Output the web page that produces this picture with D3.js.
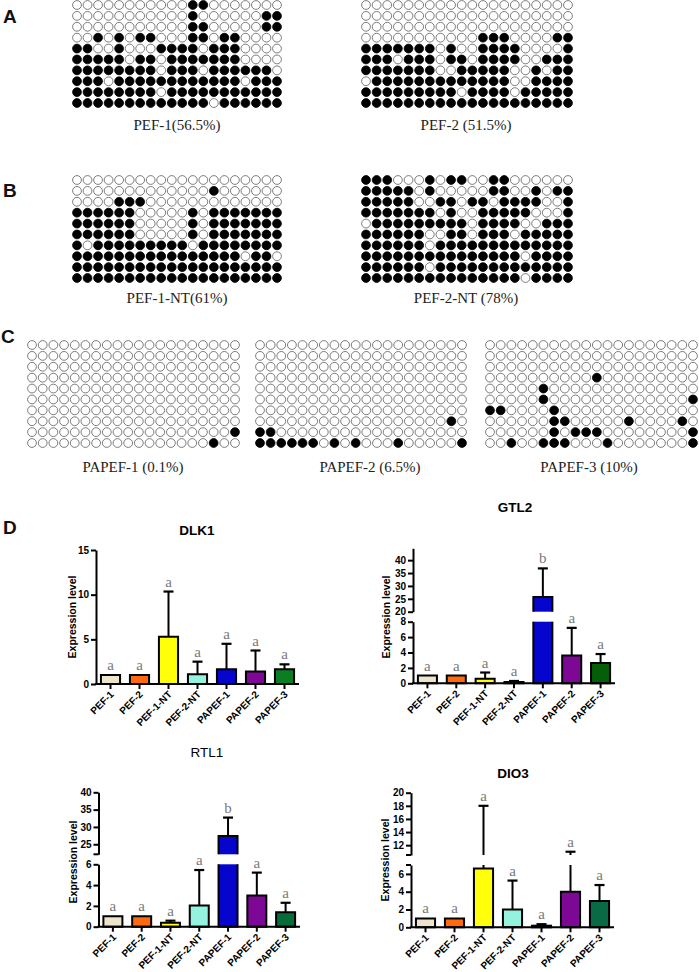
<!DOCTYPE html>
<html><head><meta charset="utf-8">
<script src="https://cdn.jsdelivr.net/npm/d3@7"></script>
<style>body{margin:0;background:#fff} svg{display:block}</style>
</head><body>
<svg id="fig" width="699" height="972"></svg>
<script>
// ---------- methylation data (1 = methylated CpG) ----------
const pef1Rows = ["00000000000110000000","00000000000100000011","00000000000110000011","00101011000110110000","11001000111101110000","11111011011111110000","11111111011101111110","11101111111111110111","11111111011111111111","11111111111110111111"];
const pef2Rows = ["00000000000000000000","00000000000000000000","00000000000000000000","00000000000111000011","11111110100111100001","11101110110111100111","11111110011111001011","01111111111111001111","11111111101111011111","11111111111111111111"];
const pef1ntRows = ["00000000000000000000","00000000000001000000","00001110000000000000","11111100000101111111","11111100000101111111","11111100000101111111","10111111111011111111","11111111111111110110","11111111111111111111","11111111111111111111"];
const pef2ntRows = ["11100010110011000000","11111010000011001011","11111001101101111001","11111110100111110001","01111111110111100111","11111100110111011111","11111101111111111111","11111111111111101111","11111101111111111111","11111111111111101111"];
const papef1Rows = ["00000000000000000000","00000000000000000000","00000000000000000000","00000000000000000000","00000000000000000000","00000000000000000000","00000000000000000000","00000000000000000000","00000000000000000001","00000000000000000100"];
const papef2Rows = ["00000000000000000000","00000000000000000000","00000000000000000000","00000000000000000000","00000000000000000000","00000000000000000000","00000000000000000000","00000000000000000010","11000000000000000000","11111101010001000001"];
const papef3Rows = ["00000000000000000000","00000000000000000000","00000000000000000000","00000000001000000000","00000100000000000000","00000100000000000001","11000010000000000000","00000011000001000010","00000010111000000001","00100111000100000001"];
const gridLabels = ["PEF-1(56.5%)","PEF-2 (51.5%)","PEF-1-NT(61%)","PEF-2-NT (78%)","PAPEF-1 (0.1%)","PAPEF-2 (6.5%)","PAPEF-3 (10%)"];

// ---------- expression data ----------
const categories = ["PEF-1","PEF-2","PEF-1-NT","PEF-2-NT","PAPEF-1","PAPEF-2","PAPEF-3"];
const dlk1Mean = [1, 1, 5.3, 1.1, 1.65, 1.4, 1.65];
const dlk1SD   = [0, 0, 5.05, 1.4, 2.85, 2.35, 0.55];
const dlk1Letters = ["a","a","a","a","a","a","a"];
const gtl2Mean = [1, 1, 0.6, 0.17, 25.7, 3.6, 2.65];
const gtl2SD   = [0, 0, 0.8, 0.13, 11.1, 3.6, 1.15];
const gtl2Letters = ["a","a","a","a","b","a","a"];
const rtl1Mean = [1, 1, 0.38, 2.05, 27.4, 3.0, 1.4];
const rtl1SD   = [0, 0, 0.2, 3.4, 5.3, 2.2, 0.9];
const rtl1Letters = ["a","a","a","a","b","a","a"];
const dio3Mean = [1, 1, 6.6, 2.0, 0.18, 4.0, 2.95];
const dio3SD   = [0, 0, 11.4, 3.25, 0.17, 7.0, 1.8];
const dio3Letters = ["a","a","a","a","a","a","a"];
const dlk1Ticks = [0,5,10,15];
const gtl2TicksLow = [0,2,4,6,8], gtl2TicksHigh = [20,25,30,35,40];
const rtl1TicksLow = [0,2,4,6], rtl1TicksHigh = [25,30,35,40];
const dio3TicksLow = [0,2,4,6], dio3TicksHigh = [12,14,16,18,20];

const palette = ["#ECE5C9","#FF6A10","#FFFF0A","#93F3DE","#0505CD","#7E0896","#0A6E2A"];

const svg = d3.select("#fig");
svg.append("rect").attr("width",699).attr("height",972).attr("fill","#fff");

const SANS = "'Liberation Sans', Arial, Helvetica, sans-serif";
const SERIF = "'Liberation Serif', 'Times New Roman', serif";

// panel letters
[["A",3,23],["B",3,197],["C",1,343],["D",3,534]].forEach(([t,x,y])=>{
  svg.append("text").attr("x",x).attr("y",y).text(t)
    .attr("font-family",SANS).attr("font-weight","bold").attr("font-size",19).attr("fill","#111");
});

function grid(rows, x0, x1, y0, label, lx, ly){
  const g = svg.append("g");
  const nC = rows[0].length, nR = rows.length;
  const x = d3.scalePoint().domain(d3.range(nC)).range([x0,x1]);
  const y = d3.scalePoint().domain(d3.range(nR)).range([y0, y0 + 10.89*(nR-1)]);
  const cells = rows.flatMap((r,i)=>r.split("").map((c,j)=>({i,j,m:c==="1"})));
  g.selectAll("circle").data(cells).join("circle")
    .attr("cx",d=>x(d.j)).attr("cy",d=>y(d.i)).attr("r",4.4)
    .attr("fill",d=>d.m?"#000":"#fff")
    .attr("stroke",d=>d.m?"#000":"#666").attr("stroke-width",0.85);
  g.append("text").attr("x",lx).attr("y",ly).attr("text-anchor","middle")
    .attr("font-family",SERIF).attr("font-size",15).attr("fill","#222").text(label);
}
grid(pef1Rows, 77, 277, 5, gridLabels[0], 177, 130);
grid(pef2Rows, 366, 568, 5, gridLabels[1], 466, 130);
grid(pef1ntRows, 77, 277, 180, gridLabels[2], 177, 303);
grid(pef2ntRows, 366, 568, 180, gridLabels[3], 466, 303);
grid(papef1Rows, 32, 235, 345, gridLabels[4], 133, 472);
grid(papef2Rows, 260, 462, 345, gridLabels[5], 370, 472);
grid(papef3Rows, 490, 693, 345, gridLabels[6], 589, 472);

function barChart(o){
  const g = svg.append("g");
  const segs = o.segments.map(s=>({...s, scale:d3.scaleLinear().domain(s.d).range(s.r)}));
  const yBase = segs[0].r[0];
  const x = d3.scaleBand().domain(categories).range([o.x0,o.x1]).paddingInner(0.34).paddingOuter(0.17);
  const bw = x.bandwidth();
  const colors = palette.slice(); if(o.lastColor) colors[6]=o.lastColor;
  function px(v){ const s = segs.find(s=>v>=s.d[0]-1e-9 && v<=s.d[1]+1e-9) || segs[segs.length-1]; return s.scale(v); }

  // bars
  categories.forEach((c,i)=>{
    const v = o.mean[i];
    segs.forEach((s,k)=>{
      const lo = s.d[0], hi = Math.min(v, s.d[1]);
      if(hi <= lo) return;
      const yT = s.scale(hi), yB = s.scale(lo), xL = x(c), xR = x(c)+bw;
      g.append("rect").attr("x",xL).attr("y",yT).attr("width",bw).attr("height",yB-yT).attr("fill",colors[i]);
      const cutTop = v > s.d[1], cutBot = k>0;
      let p = d3.path();
      if(!cutTop && !cutBot){ p.rect(xL,yT,bw,yB-yT); }
      else if(cutTop && !cutBot){ p.moveTo(xL,yT); p.lineTo(xL,yB); p.lineTo(xR,yB); p.lineTo(xR,yT); }
      else if(!cutTop && cutBot){ p.moveTo(xL,yB); p.lineTo(xL,yT); p.lineTo(xR,yT); p.lineTo(xR,yB); }
      else { p.moveTo(xL,yT); p.lineTo(xL,yB); p.moveTo(xR,yT); p.lineTo(xR,yB); }
      g.append("path").attr("d",p.toString()).attr("fill","none").attr("stroke","#000").attr("stroke-width",2);
    });
    // error bars
    const sd = o.sd[i], top = v+sd, cx = x(c)+bw/2;
    if(sd>0){
      segs.forEach(s=>{
        const lo = Math.max(v, s.d[0]), hi = Math.min(top, s.d[1]);
        if(hi<=lo) return;
        g.append("line").attr("x1",cx).attr("x2",cx).attr("y1",s.scale(lo)).attr("y2",s.scale(hi))
          .attr("stroke","#000").attr("stroke-width",2);
      });
      const yc = px(top);
      g.append("line").attr("x1",cx-5).attr("x2",cx+5).attr("y1",yc).attr("y2",yc).attr("stroke","#000").attr("stroke-width",2.2);
    }
    g.append("text").attr("x",cx).attr("y",px(sd>0?top:v)-5).attr("text-anchor","middle")
      .attr("font-family",SERIF).attr("font-size",15).attr("fill","#7a7a7a").text(o.letters[i]);
  });

  // y axes
  segs.forEach((s,k)=>{
    const ax = g.append("g").attr("transform",`translate(${o.x0},0)`)
      .call(d3.axisLeft(s.scale).tickValues(s.ticks).tickFormat(d3.format("d")).tickSize(5).tickSizeOuter(0).tickPadding(2));
    ax.select(".domain").attr("stroke","#000").attr("stroke-width",2);
    ax.selectAll(".tick line").attr("stroke","#000").attr("stroke-width",2);
    ax.selectAll(".tick text").attr("font-family",SANS).attr("font-weight","bold").attr("font-size",10).attr("fill","#000");
    // break stubs
    const ends = [];
    if(k>0) ends.push(s.d[0]);
    if(k<segs.length-1) ends.push(s.d[1]);
    ends.filter(e=>!s.ticks.includes(e)).forEach(e=>{
      g.append("line").attr("x1",o.x0-5).attr("x2",o.x0).attr("y1",s.scale(e)).attr("y2",s.scale(e))
        .attr("stroke","#000").attr("stroke-width",2);
    });
  });

  // x axis
  g.append("line").attr("x1",o.x0-1).attr("x2",o.x1).attr("y1",yBase).attr("y2",yBase).attr("stroke","#000").attr("stroke-width",2);
  categories.forEach(c=>{
    const cx = x(c)+bw/2;
    g.append("line").attr("x1",cx).attr("x2",cx).attr("y1",yBase).attr("y2",yBase+5).attr("stroke","#000").attr("stroke-width",2);
    g.append("text").attr("transform",`translate(${cx+4},${yBase+11}) rotate(-45)`).attr("text-anchor","end")
      .attr("font-family",SANS).attr("font-weight","bold").attr("font-size",10).attr("fill","#000").text(c);
  });

  // y label
  g.append("text").attr("transform",`translate(${o.ylx},${o.yly}) rotate(-90)`).attr("text-anchor","middle")
    .attr("dy","0.35em").attr("font-family",SANS).attr("font-weight","bold").attr("font-size",10.5).attr("fill","#000")
    .text("Expression level");
  // title
  g.append("text").attr("x",o.tx).attr("y",o.ty).attr("text-anchor","middle")
    .attr("font-family",SANS).attr("font-weight",o.bold?"bold":"normal").attr("font-size",13.5).attr("fill","#000").text(o.title);
}

barChart({title:"DLK1", tx:197, ty:535, bold:true, x0:96, x1:299,
  segments:[{d:[0,15], r:[684,550], ticks:dlk1Ticks}],
  mean:dlk1Mean, sd:dlk1SD, letters:dlk1Letters, ylx:72, yly:617, lastColor:"#0A7F22"});
barChart({title:"GTL2", tx:515, ty:512, bold:true, x0:413, x1:615,
  segments:[{d:[0,8], r:[683.3,621.7], ticks:gtl2TicksLow},{d:[20,44.6], r:[611.7,548.3], ticks:gtl2TicksHigh}],
  mean:gtl2Mean, sd:gtl2SD, letters:gtl2Letters, ylx:386, yly:617, lastColor:"#055E08"});
barChart({title:"RTL1", tx:207, ty:757, bold:false, x0:98.5, x1:300,
  segments:[{d:[0,6], r:[926.7,864.3], ticks:rtl1TicksLow},{d:[22.1,40], r:[854.3,792.3], ticks:rtl1TicksHigh}],
  mean:rtl1Mean, sd:rtl1SD, letters:rtl1Letters, ylx:73, yly:862, lastColor:"#076B3A"});
barChart({title:"DIO3", tx:513, ty:778, bold:true, x0:411, x1:614,
  segments:[{d:[0,7], r:[927.3,865], ticks:dio3TicksLow},{d:[10.5,20], r:[855,792.7], ticks:dio3TicksHigh}],
  mean:dio3Mean, sd:dio3SD, letters:dio3Letters, ylx:385, yly:860, lastColor:"#086B45"});
</script>
</body></html>
